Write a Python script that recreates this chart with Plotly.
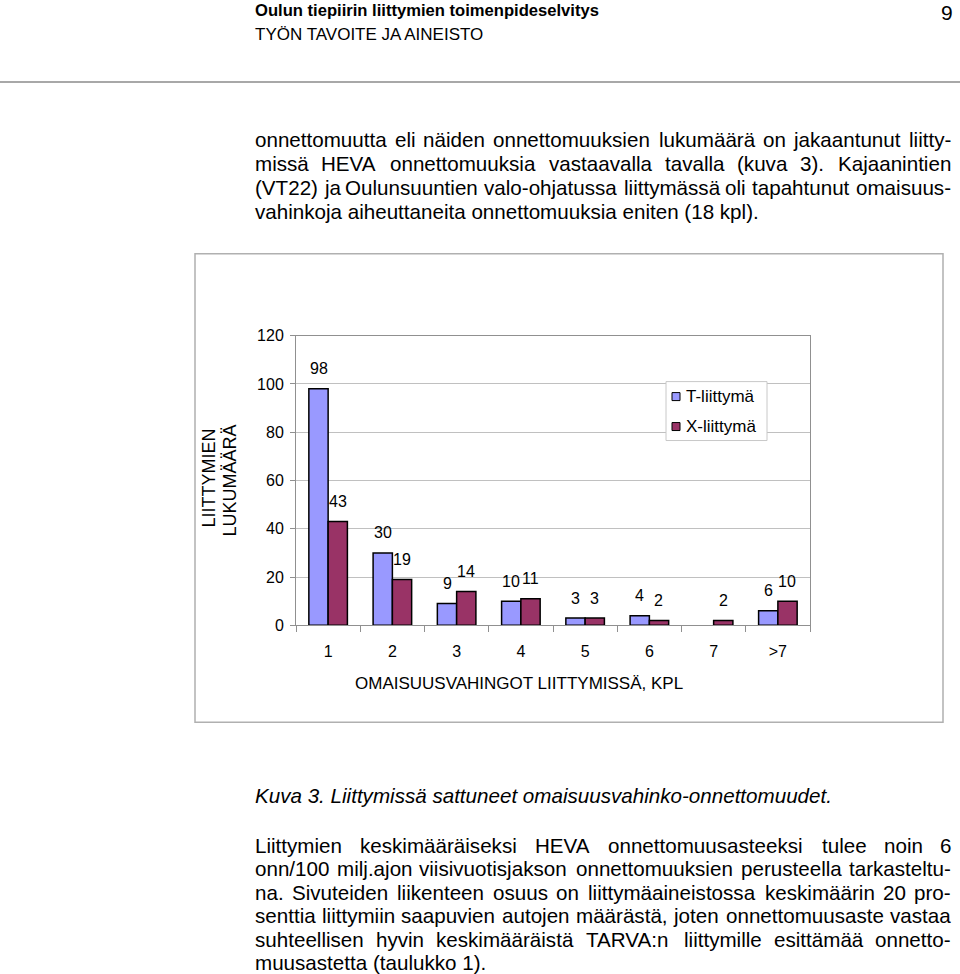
import plotly.graph_objects as go

categories = ["1", "2", "3", "4", "5", "6", "7", ">7"]
t_values = [98, 30, 9, 10, 3, 4, None, 6]
x_values = [43, 19, 14, 11, 3, 2, 2, 10]
y_ticks = [0, 20, 40, 60, 80, 100, 120]
series_names = ["T-liittymä", "X-liittymä"]
series_colors = ["#9999FF", "#993366"]

header_title = "Oulun tiepiirin liittymien toimenpideselvitys"
header_sub = "TYÖN TAVOITE JA AINEISTO"
page_no = "9"
para1 = [
    "onnettomuutta eli näiden onnettomuuksien lukumäärä on jakaantunut liitty-",
    "missä HEVA onnettomuuksia vastaavalla tavalla (kuva 3). Kajaanintien",
    "(VT22) ja Oulunsuuntien valo-ohjatussa liittymässä oli tapahtunut omaisuus-",
    "vahinkoja aiheuttaneita onnettomuuksia eniten (18 kpl).",
]
caption = "Kuva 3. Liittymissä sattuneet omaisuusvahinko-onnettomuudet."
para2 = [
    "Liittymien keskimääräiseksi HEVA onnettomuusasteeksi tulee noin 6",
    "onn/100 milj.ajon viisivuotisjakson onnettomuuksien perusteella tarkasteltu-",
    "na. Sivuteiden liikenteen osuus on liittymäaineistossa keskimäärin 20 pro-",
    "senttia liittymiin saapuvien autojen määrästä, joten onnettomuusaste vastaa",
    "suhteellisen hyvin keskimääräistä TARVA:n liittymille esittämää onnetto-",
    "muusastetta (taulukko 1).",
]

W, H = 960, 974
FONT = "Liberation Sans, Arial, sans-serif"
BODY = 20.6
LEFT, RIGHT = 255, 951
WFACT = 1.011  # small empirical correction of rendered text width

# Arial / Liberation Sans advance widths (1/1000 em)
AW = {" ": 278, "(": 333, ")": 333, ",": 278, "-": 333, ".": 278, "/": 278, ":": 278,
      "A": 667, "B": 667, "C": 722, "D": 722, "E": 667, "F": 611, "G": 778, "H": 722,
      "I": 278, "J": 500, "K": 667, "L": 556, "M": 833, "N": 722, "O": 778, "P": 667,
      "R": 722, "S": 667, "T": 611, "U": 722, "V": 667, "W": 944, "X": 667, "Y": 667,
      "Ä": 667, "Ö": 778,
      "a": 556, "b": 556, "c": 500, "d": 556, "e": 556, "f": 278, "g": 556, "h": 556,
      "i": 222, "j": 222, "k": 500, "l": 222, "m": 833, "n": 556, "o": 556, "p": 556,
      "q": 556, "r": 333, "s": 500, "t": 278, "u": 556, "v": 500, "w": 722, "x": 500,
      "y": 500, "z": 500, "ä": 556, "ö": 556}
for d in "0123456789":
    AW[d] = 556


def text_w(s, size):
    return sum(AW.get(c, 556) for c in s) * size / 1000.0 * WFACT


# vertical calibration of the rendered page (target pixel row -> paper fraction)
VS, VOFF = 0.9836, 8.0


def py(v):
    return 1 - ((v - VOFF) / VS) / H


def px(v):
    return v / W


fig = go.Figure()
for name, color, vals in zip(series_names, series_colors, [t_values, x_values]):
    fig.add_trace(go.Bar(name=name, x=categories, y=vals, showlegend=False,
                         marker=dict(color=color, line=dict(color="#000000", width=1.5))))

annotations = []
for i, (tv, xv) in enumerate(zip(t_values, x_values)):
    if tv:
        annotations.append(dict(x=i, y=tv, xref="x", yref="y", text=str(tv), showarrow=False,
                                xshift=-9.5, yshift=20, font=dict(size=16, color="#000")))
    if xv:
        annotations.append(dict(x=i, y=xv, xref="x", yref="y", text=str(xv), showarrow=False,
                                xshift=9.5, yshift=20, font=dict(size=16, color="#000")))


def txt(x, y, s, size=BODY, bold=False, italic=False, xanchor="left", angle=0):
    if bold:
        s = "<b>" + s + "</b>"
    if italic:
        s = "<i>" + s + "</i>"
    annotations.append(dict(x=px(x), y=py(y), xref="paper", yref="paper", text=s, showarrow=False,
                            xanchor=xanchor, yanchor="middle", textangle=angle,
                            borderpad=0, borderwidth=0,
                            font=dict(size=size, color="#000")))


def justified(line, y, size=BODY):
    words = line.split(" ")
    widths = [text_w(w, size) for w in words]
    n = len(words)
    gap = (RIGHT - LEFT - sum(widths)) / (n - 1)
    half = (n + 1) // 2
    x = LEFT
    for k in range(half):
        txt(x, y, words[k], size)
        x += widths[k] + gap
    xr = RIGHT
    for k in range(n - 1, half - 1, -1):
        txt(xr, y, words[k], size, xanchor="right")
        xr -= widths[k] + gap


# axis titles
txt(209, 479, "LIITTYMIEN", size=18, xanchor="center", angle=-90)
txt(230, 481, "LUKUMÄÄRÄ", size=18, xanchor="center", angle=-90)
txt(519, 684, "OMAISUUSVAHINGOT LIITTYMISSÄ, KPL", size=17, xanchor="center")

# manual legend
legend_items = [(series_names[0], series_colors[0], 397), (series_names[1], series_colors[1], 427)]
shapes = [
    dict(type="line", xref="paper", yref="paper", x0=0, x1=1, y0=py(82), y1=py(82),
         line=dict(color="#a8a8a8", width=2)),
    dict(type="rect", xref="paper", yref="paper", x0=px(195), x1=px(943), y0=py(723), y1=py(254),
         line=dict(color="#b0b0b0", width=1.5)),
    dict(type="rect", xref="paper", yref="paper", x0=px(666), x1=px(767), y0=py(441), y1=py(382),
         line=dict(color="#c8c8c8", width=1), fillcolor="white", layer="above"),
]
for name, color, yy in legend_items:
    shapes.append(dict(type="rect", xref="paper", yref="paper", x0=px(672), x1=px(680),
                       y0=py(yy + 4), y1=py(yy - 4), line=dict(color="#000", width=1),
                       fillcolor=color, layer="above"))
    txt(686, yy, name, size=17)

# page texts
txt(255, 11, header_title, size=16.6, bold=True)
txt(255, 35, header_sub, size=17)
txt(953, 13, page_no, size=21, xanchor="right")

for i, line in enumerate(para1):
    y = 140 + i * 24
    if i < len(para1) - 1:
        justified(line, y)
    else:
        txt(LEFT, y, line)

txt(LEFT, 796, caption, italic=True)

for i, line in enumerate(para2):
    y = 846 + i * 23.6
    if i < len(para2) - 1:
        justified(line, y)
    else:
        txt(LEFT, y, line)

fig.update_layout(
    width=W, height=H, margin=dict(l=0, r=0, t=0, b=0), autosize=False,
    paper_bgcolor="white", plot_bgcolor="white",
    font=dict(family=FONT, size=16, color="#000"),
    barmode="group", bargap=0.4, bargroupgap=0,
    showlegend=False,
    annotations=annotations, shapes=shapes,
    xaxis=dict(domain=[px(296), px(810)], type="category", showgrid=False,
               showline=True, linecolor="#909090", linewidth=1, mirror=True,
               ticks="outside", tickson="boundaries", ticklen=6, tickcolor="#909090",
               ticklabelstandoff=11, tickfont=dict(size=16), fixedrange=True),
    yaxis=dict(domain=[py(626), py(336)], range=[0, 120], tickvals=y_ticks,
               showgrid=True, gridcolor="#c0c0c0", gridwidth=1,
               showline=True, linecolor="#909090", linewidth=1, mirror=True,
               ticks="outside", ticklen=5, tickcolor="#909090",
               ticklabelstandoff=3, tickfont=dict(size=16), zeroline=False),
)

fig.write_html("out.html")
